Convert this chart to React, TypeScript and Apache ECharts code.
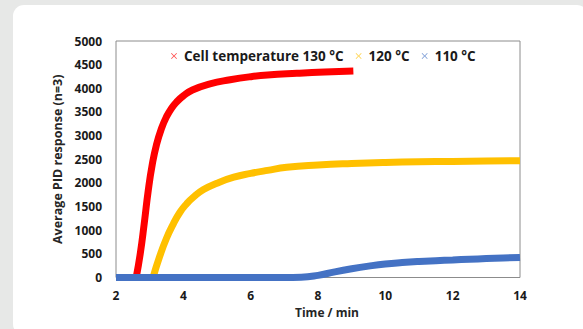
import React, { useEffect, useRef } from "react";
import * as echarts from "echarts";

const seriesNames = ["Cell temperature 130 °C", "120 °C", "110 °C"];
const seriesColors = ["#ff0000", "#ffc000", "#4472c4"];

const time130 = [2.6, 2.72, 2.84, 2.96, 3.08, 3.2, 3.35, 3.5, 3.65, 3.8, 4.0, 4.27, 4.79, 5.39, 6.0, 6.5, 7.37, 8.2, 9.05];
const resp130 = [0, 500, 1150, 1850, 2400, 2800, 3150, 3400, 3580, 3710, 3840, 3965, 4095, 4180, 4245, 4281, 4317, 4345, 4366];

const time120 = [3.1, 3.3, 3.5, 3.7, 3.9, 4.1, 4.3, 4.6, 5.0, 5.5, 6.0, 6.5, 7.07, 8.0, 9.0, 10.0, 11.0, 12.0, 13.0, 14.0];
const resp120 = [0, 450, 830, 1130, 1380, 1560, 1700, 1860, 1995, 2120, 2200, 2265, 2330, 2378, 2410, 2432, 2445, 2455, 2463, 2470];

const time110 = [2.0, 4.0, 6.0, 7.0, 7.5, 8.0, 8.5, 9.0, 9.5, 10.0, 10.5, 11.0, 11.5, 12.0, 12.5, 13.0, 13.5, 14.0];
const resp110 = [0, 0, 0, 0, 5, 45, 120, 185, 240, 285, 315, 338, 355, 370, 386, 400, 413, 425];

const xTicks = { min: 2, max: 14, interval: 2 };
const yTicks = { min: 0, max: 5000, interval: 500 };

const crossIcon = "path://M0,1L1,0L5,4L9,0L10,1L6,5L10,9L9,10L5,6L1,10L0,9L4,5Z";
const FONT = "'Open Sans', 'Noto Sans', sans-serif";

export default function App() {
  const ref = useRef<HTMLDivElement>(null);
  useEffect(() => {
    if (!ref.current) return;
    const chart = echarts.init(ref.current, null, { renderer: "svg" });
    const sets = [
      [time130, resp130],
      [time120, resp120],
      [time110, resp110],
    ];
    chart.setOption({
      animation: false,
      backgroundColor: "transparent",
      textStyle: { fontFamily: FONT },
      grid: {
        left: 116,
        top: 41,
        width: 404,
        height: 236.5,
        show: true,
        borderColor: "#8c8c8c",
        borderWidth: 1,
        backgroundColor: "transparent",
      },
      legend: {
        top: 44,
        left: 166,
        icon: crossIcon,
        itemWidth: 6,
        itemHeight: 6,
        itemGap: 12,
        textStyle: { fontFamily: FONT, fontWeight: "bold", fontSize: 13.5, color: "#1a1a1a", padding: [0, 0, 0, 2] },
        data: seriesNames.map((n, i) => ({ name: n, itemStyle: { color: seriesColors[i], opacity: 0.7 } })),
      },
      xAxis: {
        type: "value",
        min: xTicks.min,
        max: xTicks.max,
        interval: xTicks.interval,
        name: "Time / min",
        nameLocation: "middle",
        nameGap: 27,
        nameTextStyle: { fontFamily: FONT, fontWeight: "bold", fontSize: 12, color: "#262626", padding: [0, 0, 0, 18] },
        axisLine: { show: false },
        axisTick: { show: false },
        splitLine: { show: false },
        axisLabel: { fontFamily: FONT, fontWeight: "bold", fontSize: 12, color: "#1a1a1a", margin: 12 },
      },
      yAxis: {
        type: "value",
        min: yTicks.min,
        max: yTicks.max,
        interval: yTicks.interval,
        name: "Average PID response (n=3)",
        nameLocation: "middle",
        nameGap: 48,
        nameTextStyle: { fontFamily: FONT, fontWeight: "bold", fontSize: 12.5, color: "#262626" },
        axisLine: { show: false },
        axisTick: { show: false },
        splitLine: { show: false },
        axisLabel: {
          fontFamily: FONT,
          fontWeight: "bold",
          fontSize: 12,
          color: "#1a1a1a",
          margin: 14,
          formatter: (v: number) => String(v),
        },
      },
      series: sets.map(([t, v], i) => ({
        name: seriesNames[i],
        type: "line",
        data: t.map((x, j) => [x, v[j]]),
        smooth: 0.5,
        showSymbol: false,
        symbol: crossIcon,
        lineStyle: { color: seriesColors[i], width: 7, cap: "butt" },
        itemStyle: { color: seriesColors[i] },
        z: 2 + i,
      })),
    });
    return () => chart.dispose();
  }, []);
  return (
    <div style={{ position: "fixed", left: 0, top: 0, width: 583, height: 329, background: "#e7e8e7", overflow: "hidden" }}>
      <div style={{ position: "absolute", left: 13, top: 5, width: 575, height: 330, background: "#ffffff", borderRadius: 11 }} />
      <div ref={ref} style={{ position: "absolute", left: 0, top: 0, width: 583, height: 329 }} />
    </div>
  );
}
